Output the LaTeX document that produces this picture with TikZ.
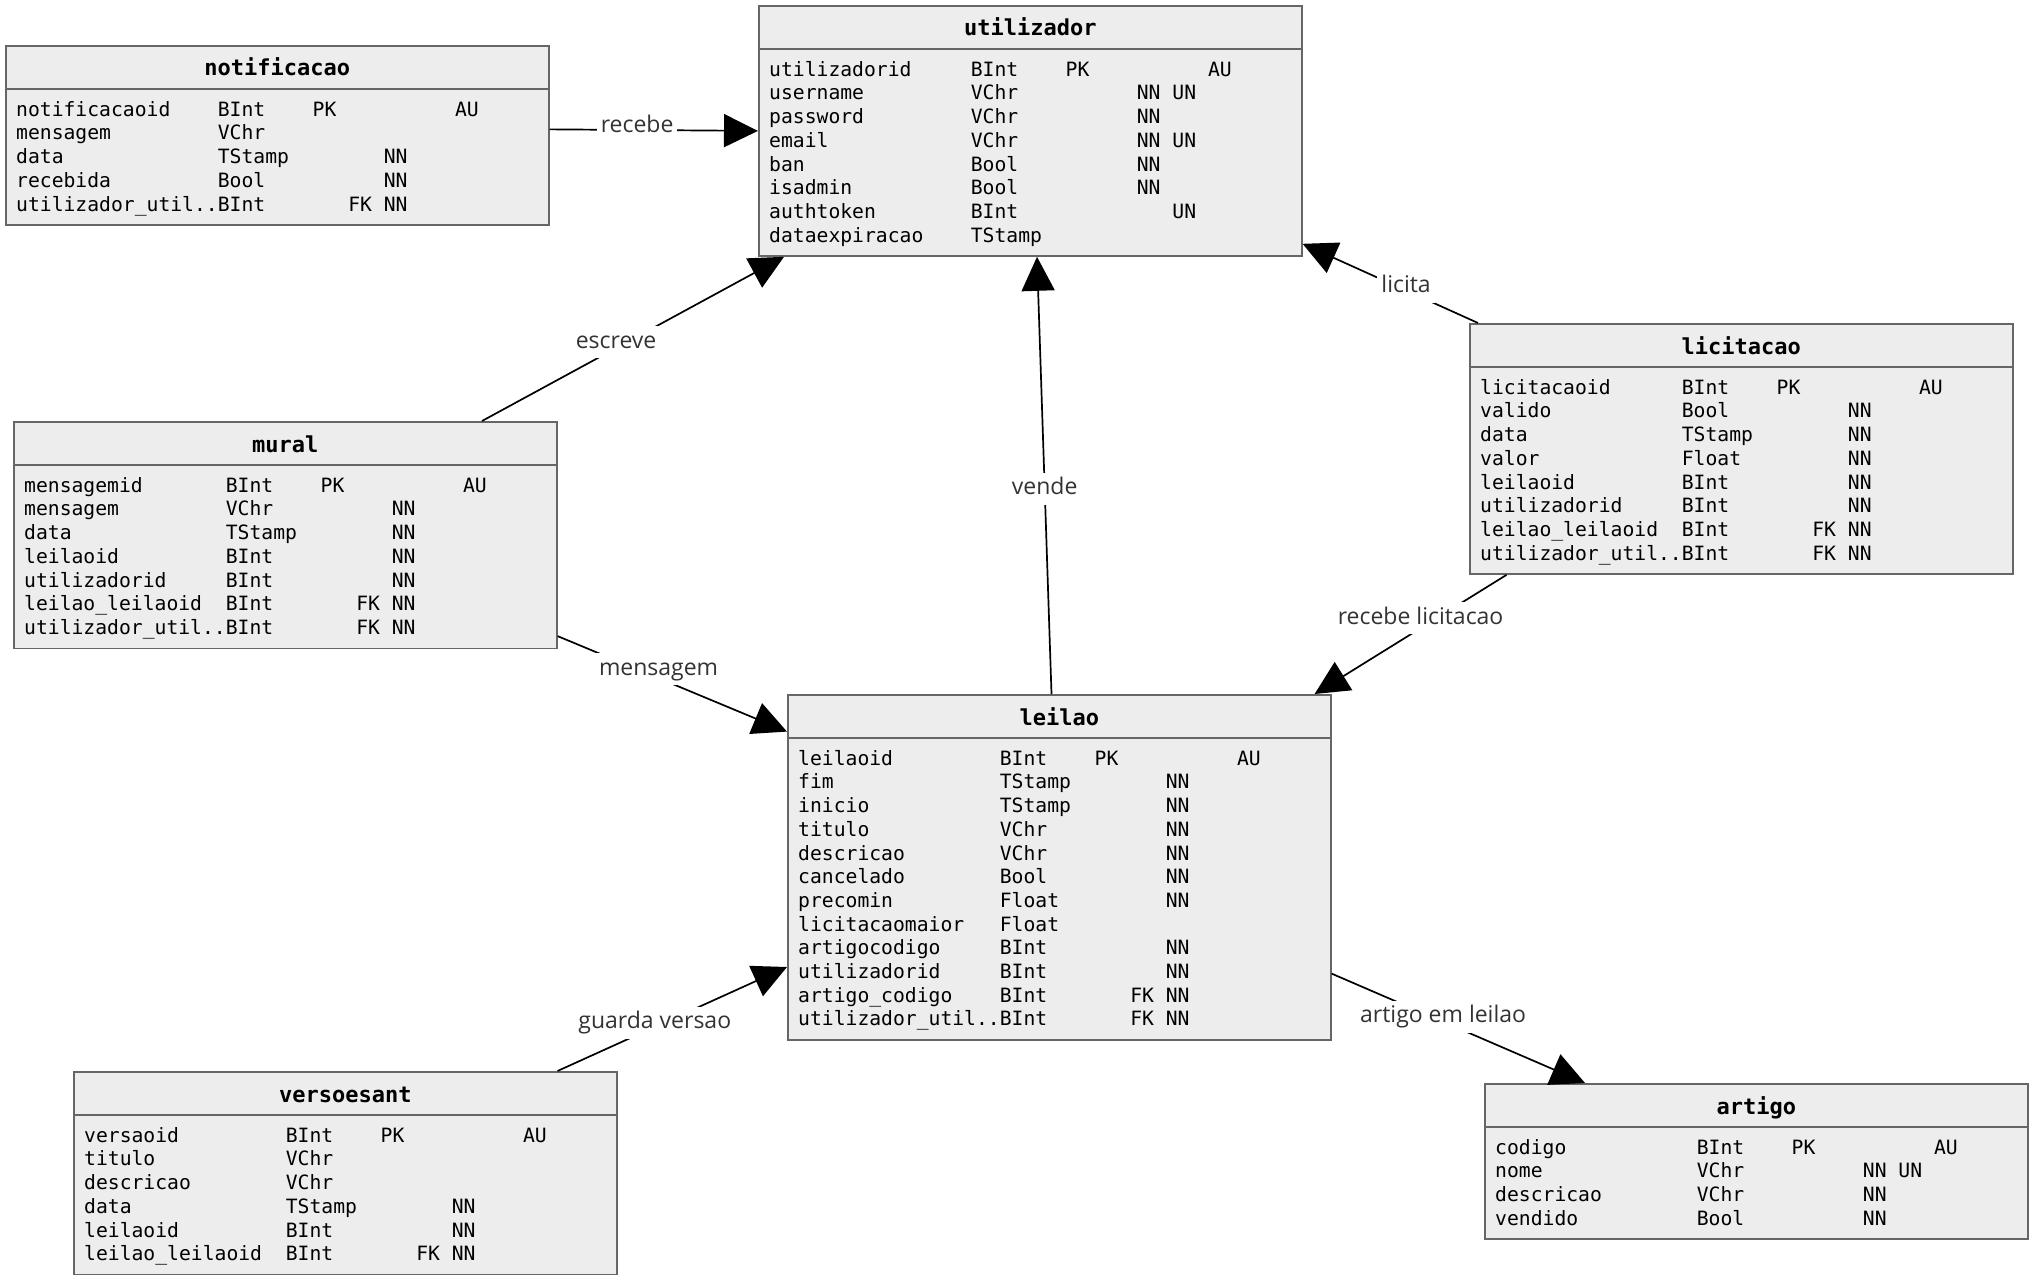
\documentclass[tikz,border=0pt]{standalone}
\usepackage{fontspec}
\usetikzlibrary{arrows.meta}
\newfontfamily\dbmono{DejaVu Sans Mono}
\newfontfamily\lblfont{Open Sans}
\definecolor{boxfill}{HTML}{EDEDED}
\definecolor{boxgray}{HTML}{666666}
\definecolor{lblgray}{HTML}{333333}
% one column row: name, type, PK, FK, NN, UN, AU (fixed monospace columns)
\newcommand\rs{\rule[-5.7pt]{0pt}{23.7pt}}
\newcommand\fld[7]{\rs\makebox[10.235em][l]{#1}\makebox[4.8164em][l]{#2}\makebox[1.8062em][l]{#3}\makebox[1.8062em][l]{#4}\makebox[1.8062em][l]{#5}\makebox[1.8062em][l]{#6}#7}
% table: node name, top-left corner, number of rows, title, rows
\newcommand\dbtable[5]{%
  \node[tbl, minimum height={60.6pt+23.7pt*#3}, anchor=north west] (#1) at (#2) {};
  \draw[sepline] ([yshift=-44pt]#1.north west) -- ([yshift=-44pt]#1.north east);
  \node[ttl, anchor=base] (#1-title) at ([yshift=-31pt]#1.north) {#4};
  \node[rows, anchor=north west] (#1-rows) at ([xshift=11pt,yshift=-53pt]#1.north west) {#5};
}
\begin{document}
\begin{tikzpicture}[x=1pt,y=-1pt,
  tbl/.style={rectangle, draw=boxgray, fill=boxfill, line width=1.6pt, minimum width=543pt, inner sep=0pt},
  sepline/.style={draw=boxgray, line width=1.6pt},
  ttl/.style={inner sep=0pt, font=\dbmono\bfseries\fontsize{22}{26}\selectfont, text=black},
  rows/.style={inner sep=0pt, align=left, font=\dbmono\fontsize{19.7}{23.7}\selectfont, text=black},
  rel/.style={draw=black, line width=1.7pt, -{Triangle[length=34pt,width=33pt]}},
  lbl/.style={fill=white, text=lblgray, font=\lblfont\fontsize{23}{27}\selectfont,
    inner xsep=4pt, inner ysep=5pt, text height=17pt, text depth=5pt, yshift=4pt}]
\fill[white] (0,0) rectangle (2033,1279);
\useasboundingbox (0,0) rectangle (2033,1279);

\dbtable{noti}{5,45}{5}{notificacao}{%
\fld{notificacaoid}{BInt}{PK}{}{}{}{AU}\\
\fld{mensagem}{VChr}{}{}{}{}{}\\
\fld{data}{TStamp}{}{}{NN}{}{}\\
\fld{recebida}{Bool}{}{}{NN}{}{}\\
\fld{utilizador\_util..}{BInt}{}{FK}{NN}{}{}}

\dbtable{util}{758,5}{8}{utilizador}{%
\fld{utilizadorid}{BInt}{PK}{}{}{}{AU}\\
\fld{username}{VChr}{}{}{NN}{UN}{}\\
\fld{password}{VChr}{}{}{NN}{}{}\\
\fld{email}{VChr}{}{}{NN}{UN}{}\\
\fld{ban}{Bool}{}{}{NN}{}{}\\
\fld{isadmin}{Bool}{}{}{NN}{}{}\\
\fld{authtoken}{BInt}{}{}{}{UN}{}\\
\fld{dataexpiracao}{TStamp}{}{}{}{}{}}

\dbtable{lici}{1469,323}{8}{licitacao}{%
\fld{licitacaoid}{BInt}{PK}{}{}{}{AU}\\
\fld{valido}{Bool}{}{}{NN}{}{}\\
\fld{data}{TStamp}{}{}{NN}{}{}\\
\fld{valor}{Float}{}{}{NN}{}{}\\
\fld{leilaoid}{BInt}{}{}{NN}{}{}\\
\fld{utilizadorid}{BInt}{}{}{NN}{}{}\\
\fld{leilao\_leilaoid}{BInt}{}{FK}{NN}{}{}\\
\fld{utilizador\_util..}{BInt}{}{FK}{NN}{}{}}

\dbtable{mural}{13,421}{7}{mural}{%
\fld{mensagemid}{BInt}{PK}{}{}{}{AU}\\
\fld{mensagem}{VChr}{}{}{NN}{}{}\\
\fld{data}{TStamp}{}{}{NN}{}{}\\
\fld{leilaoid}{BInt}{}{}{NN}{}{}\\
\fld{utilizadorid}{BInt}{}{}{NN}{}{}\\
\fld{leilao\_leilaoid}{BInt}{}{FK}{NN}{}{}\\
\fld{utilizador\_util..}{BInt}{}{FK}{NN}{}{}}

\dbtable{leilao}{787,694}{12}{leilao}{%
\fld{leilaoid}{BInt}{PK}{}{}{}{AU}\\
\fld{fim}{TStamp}{}{}{NN}{}{}\\
\fld{inicio}{TStamp}{}{}{NN}{}{}\\
\fld{titulo}{VChr}{}{}{NN}{}{}\\
\fld{descricao}{VChr}{}{}{NN}{}{}\\
\fld{cancelado}{Bool}{}{}{NN}{}{}\\
\fld{precomin}{Float}{}{}{NN}{}{}\\
\fld{licitacaomaior}{Float}{}{}{}{}{}\\
\fld{artigocodigo}{BInt}{}{}{NN}{}{}\\
\fld{utilizadorid}{BInt}{}{}{NN}{}{}\\
\fld{artigo\_codigo}{BInt}{}{FK}{NN}{}{}\\
\fld{utilizador\_util..}{BInt}{}{FK}{NN}{}{}}

\dbtable{vers}{73,1071}{6}{versoesant}{%
\fld{versaoid}{BInt}{PK}{}{}{}{AU}\\
\fld{titulo}{VChr}{}{}{}{}{}\\
\fld{descricao}{VChr}{}{}{}{}{}\\
\fld{data}{TStamp}{}{}{NN}{}{}\\
\fld{leilaoid}{BInt}{}{}{NN}{}{}\\
\fld{leilao\_leilaoid}{BInt}{}{FK}{NN}{}{}}

\dbtable{artigo}{1484,1083}{4}{artigo}{%
\fld{codigo}{BInt}{PK}{}{}{}{AU}\\
\fld{nome}{VChr}{}{}{NN}{UN}{}\\
\fld{descricao}{VChr}{}{}{NN}{}{}\\
\fld{vendido}{Bool}{}{}{NN}{}{}}

% relationships
\draw[rel] ([yshift=6pt]noti.east) -- (util.west)
  node[lbl, pos=0.42] (l-recebe) {recebe};
\draw[rel] ([xshift=469pt]mural.north west) -- ([xshift=26pt]util.south west)
  node[lbl, pos=0.444, yshift=2pt] (l-escreve) {escreve};
\draw[rel] ([xshift=9pt]lici.north west) -- ([yshift=13pt]util.south east)
  node[lbl, pos=0.41] (l-licita) {licita};
\draw[rel] ([xshift=264.5pt]leilao.north west) -- ([xshift=279pt]util.south west)
  node[lbl, pos=0.47, yshift=-4pt] (l-vende) {vende};
\draw[rel] ([yshift=13pt]mural.south east) -- ([yshift=-37.6pt]leilao.north west)
  node[lbl, pos=0.44, yshift=5pt] (l-mensagem) {mensagem};
\draw[rel] ([xshift=37.6pt]lici.south west) -- ([xshift=-17pt]leilao.north east)
  node[lbl, pos=0.448, yshift=6pt] (l-recebelic) {recebe licitacao};
\draw[rel] ([xshift=484.5pt]vers.north west) -- ([yshift=-273pt]leilao.north west)
  node[lbl, pos=0.424] (l-guarda) {guarda versao};
\draw[rel] ([yshift=67pt]leilao.south east) -- ([xshift=101pt]artigo.north west)
  node[lbl, pos=0.44, yshift=1pt] (l-artigo) {artigo em leilao};
\end{tikzpicture}
\end{document}
